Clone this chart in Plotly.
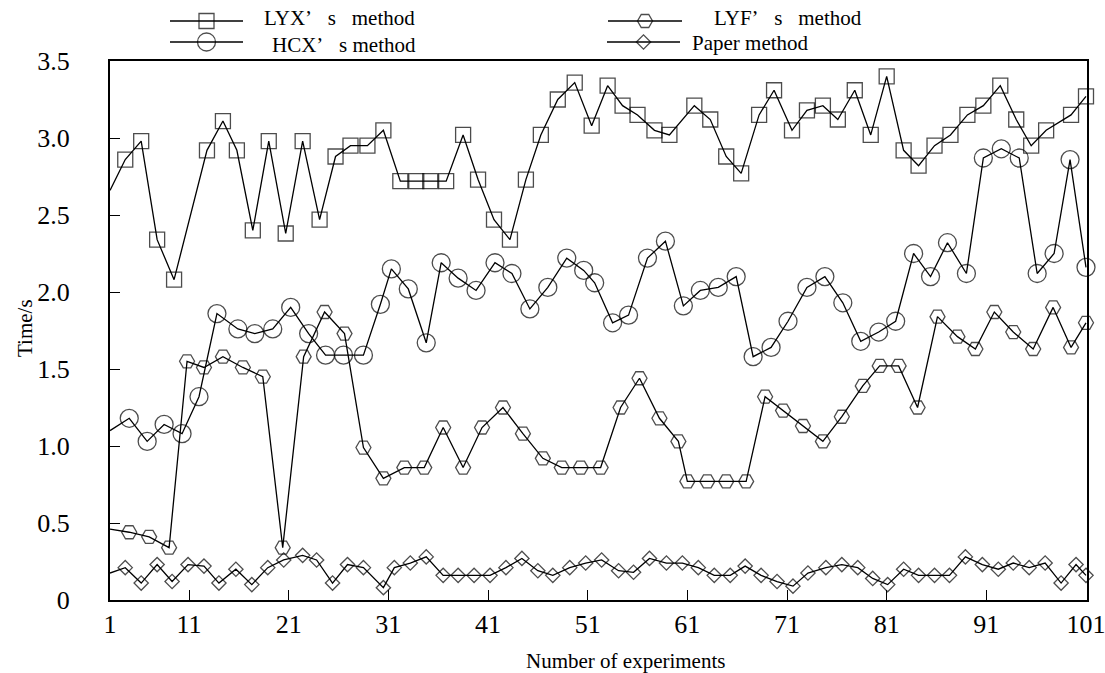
import plotly.graph_objects as go

# ---------------- data ----------------
lyx_x = [3.07, 4.6, 6.2, 7.8, 9.5, 12.8, 14.4, 15.8, 17.4, 19.0, 20.7, 22.4, 24.1, 25.7, 27.2,
         28.9, 30.5, 32.2, 33.8, 35.2, 36.8, 38.5, 40.0, 41.6, 43.2, 44.8, 46.3, 48.0, 49.7,
         51.4, 53.0, 54.5, 56.0, 57.7, 59.2, 61.7, 63.3, 64.9, 66.4, 68.2, 69.7, 71.5, 73.0,
         74.6, 76.1, 77.8, 79.4, 81.0, 82.7, 84.2, 85.8, 87.4, 89.1, 90.7, 92.4, 94.0, 95.5,
         97.0, 99.5, 101]
lyx_y = [2.66, 2.86, 2.98, 2.34, 2.08, 2.92, 3.11, 2.92, 2.40, 2.98, 2.38, 2.98, 2.47, 2.88, 2.95,
         2.95, 3.05, 2.72, 2.72, 2.72, 2.72, 3.02, 2.73, 2.47, 2.34, 2.73, 3.02, 3.25, 3.36,
         3.08, 3.34, 3.21, 3.15, 3.05, 3.02, 3.21, 3.12, 2.88, 2.77, 3.15, 3.31, 3.05, 3.18,
         3.21, 3.12, 3.31, 3.02, 3.40, 2.92, 2.82, 2.95, 3.02, 3.15, 3.21, 3.34, 3.12, 2.95,
         3.05, 3.15, 3.27]

hcx_x = [3.07, 5.0, 6.8, 8.5, 10.3, 12.0, 13.8, 15.9, 17.6, 19.4, 21.2, 23.0, 24.7, 26.5, 28.5,
         30.2, 31.3, 33.0, 34.8, 36.3, 38.0, 39.8, 41.7, 43.4, 45.2, 47.0, 48.9, 50.6, 51.7,
         53.5, 55.1, 57.0, 58.8, 60.6, 62.3, 64.1, 65.9, 67.6, 69.4, 71.1, 73.0, 74.8, 76.6,
         78.4, 80.2, 81.9, 83.7, 85.4, 87.1, 89.0, 90.7, 92.5, 94.3, 96.1, 97.8, 99.4, 101]
hcx_y = [1.10, 1.18, 1.03, 1.14, 1.08, 1.32, 1.86, 1.76, 1.73, 1.76, 1.90, 1.73, 1.59, 1.59, 1.59,
         1.92, 2.15, 2.02, 1.67, 2.19, 2.09, 2.01, 2.19, 2.12, 1.89, 2.03, 2.22, 2.14, 2.06,
         1.80, 1.85, 2.22, 2.33, 1.91, 2.01, 2.03, 2.10, 1.58, 1.64, 1.81, 2.03, 2.10, 1.93,
         1.68, 1.74, 1.81, 2.25, 2.10, 2.32, 2.12, 2.87, 2.93, 2.87, 2.12, 2.25, 2.86, 2.16]

lyf_x = [3.07, 5.0, 7.0, 9.0, 10.8, 12.5, 14.4, 16.4, 18.4, 20.4, 22.5, 24.6, 26.6, 28.5, 30.5,
         32.6, 34.6, 36.5, 38.5, 40.4, 42.5, 44.5, 46.5, 48.4, 50.3, 52.3, 54.3, 56.2, 58.2,
         60.1, 61.0, 63.0, 64.9, 66.9, 68.8, 70.6, 72.6, 74.6, 76.5, 78.6, 80.3, 82.2, 84.1,
         86.1, 88.1, 89.9, 91.8, 93.7, 95.7, 97.7, 99.5, 101]
lyf_y = [0.46, 0.44, 0.41, 0.34, 1.55, 1.51, 1.58, 1.51, 1.45, 0.34, 1.58, 1.87, 1.73, 0.99, 0.79,
         0.86, 0.86, 1.12, 0.86, 1.12, 1.25, 1.08, 0.92, 0.86, 0.86, 0.86, 1.25, 1.44, 1.18,
         1.03, 0.77, 0.77, 0.77, 0.77, 1.32, 1.23, 1.13, 1.03, 1.19, 1.39, 1.52, 1.52, 1.25,
         1.84, 1.71, 1.63, 1.87, 1.74, 1.63, 1.90, 1.64, 1.80]

paper_x = [3.07, 4.6, 6.2, 7.8, 9.3, 10.9, 12.5, 14.0, 15.7, 17.3, 18.9, 20.5, 22.4, 23.8, 25.4,
           26.9, 28.5, 30.5, 31.6, 33.2, 34.8, 36.5, 38.0, 39.6, 41.2, 42.8, 44.4, 46.0, 47.5,
           49.2, 50.8, 52.4, 54.1, 55.6, 57.2, 58.9, 60.5, 62.1, 63.7, 65.3, 66.8, 68.4, 70.0,
           71.6, 73.1, 74.9, 76.5, 78.1, 79.6, 81.1, 82.7, 84.2, 85.8, 87.3, 88.9, 90.6, 92.2,
           93.7, 95.3, 96.9, 98.5, 100.0, 101]
paper_y = [0.175, 0.21, 0.11, 0.23, 0.12, 0.23, 0.22, 0.11, 0.20, 0.10, 0.21, 0.26, 0.29, 0.26, 0.11,
           0.23, 0.21, 0.08, 0.21, 0.24, 0.28, 0.16, 0.16, 0.16, 0.16, 0.21, 0.27, 0.19, 0.16,
           0.21, 0.24, 0.26, 0.19, 0.18, 0.27, 0.24, 0.24, 0.21, 0.16, 0.16, 0.22, 0.16, 0.12,
           0.09, 0.175, 0.21, 0.23, 0.21, 0.14, 0.10, 0.20, 0.16, 0.16, 0.16, 0.28, 0.23, 0.20,
           0.24, 0.21, 0.24, 0.11, 0.23, 0.16]

series_names = ["LYX\u2019\u00a0\u00a0 s\u00a0\u00a0 method", "LYF\u2019\u00a0\u00a0 s\u00a0\u00a0 method",
                "HCX\u2019\u00a0\u00a0 s method", "Paper method"]

x_tick_vals = [3.07, 11, 21, 31, 41, 51, 61, 71, 81, 91, 101]
x_tick_text = ["1", "11", "21", "31", "41", "51", "61", "71", "81", "91", "101"]
y_tick_vals = [0, 0.5, 1.0, 1.5, 2.0, 2.5, 3.0, 3.5]
y_tick_text = ["0", "0.5", "1.0", "1.5", "2.0", "2.5", "3.0", "3.5"]

# ---------------- styling ----------------
FONT = "Liberation Serif, Times New Roman, serif"
W, H = 1105, 673
LW = 1.3

styles = [
    (lyx_x, lyx_y, "square-open", 15),
    (lyf_x, lyf_y, "hexagon2-open", 15),
    (hcx_x, hcx_y, "circle-open", 18),
    (paper_x, paper_y, "diamond-open", 11),
]

fig = go.Figure()
for (xs, ys, sym, sz), name in zip(styles, series_names):
    sizes = [0] + [sz] * (len(xs) - 1)   # the first point sits on the axis without a marker
    fig.add_trace(go.Scatter(
        x=xs, y=ys, mode="lines+markers", name=name, showlegend=False,
        line=dict(color="black", width=LW),
        marker=dict(symbol=sym, size=sizes, color="black", line=dict(color="black", width=LW)),
        cliponaxis=False, xaxis="x", yaxis="y"))

# ---------------- hand-made legend in a pixel-space helper axis ----------------
# (line start, line end, symbol row, text x, text row)
leg_rows = [(170, 243, 21, 262, 18), (608, 682, 21, 712, 18),
            (170, 243, 42, 270, 45), (607, 680, 42, 690, 43)]
for (xs, ys, sym, sz), name, (x0, x1, yy, tx, ty) in zip(styles, series_names, leg_rows):
    fig.add_trace(go.Scatter(
        x=[x0, (x0 + x1) / 2, x1], y=[yy, yy, yy], mode="lines+markers", showlegend=False,
        hoverinfo="skip",
        line=dict(color="black", width=LW),
        marker=dict(symbol=sym, size=[0, sz, 0], color="black", line=dict(color="black", width=LW)),
        cliponaxis=False, xaxis="x2", yaxis="y2"))
    fig.add_annotation(x=tx, y=ty, xref="x2", yref="y2", text=name, showarrow=False,
                       xanchor="left", yanchor="middle",
                       font=dict(family=FONT, size=21, color="black"))

plot_l, plot_r, plot_t, plot_b = 110, 1087, 61, 600

fig.update_layout(
    width=W, height=H, template="none",
    paper_bgcolor="white", plot_bgcolor="white",
    margin=dict(l=0, r=0, t=0, b=0),
    font=dict(family=FONT, color="black"),
    showlegend=False,
    xaxis=dict(
        domain=[plot_l / W, plot_r / W], range=[3.07, 101.1],
        tickmode="array", tickvals=x_tick_vals, ticktext=x_tick_text,
        ticks="inside", ticklen=10, tickwidth=LW, tickcolor="black",
        showline=True, linewidth=2, linecolor="black", mirror=True,
        showgrid=False, zeroline=False, ticklabeloverflow="allow",
        tickfont=dict(family=FONT, size=26, color="black"),
        ticklabelstandoff=0, anchor="y"),
    yaxis=dict(
        domain=[(H - plot_b) / H, (H - plot_t) / H], range=[0, 3.5],
        tickmode="array", tickvals=y_tick_vals, ticktext=y_tick_text,
        ticks="inside", ticklen=10, tickwidth=LW, tickcolor="black",
        showline=True, linewidth=2, linecolor="black", mirror=True,
        showgrid=False, zeroline=False, ticklabeloverflow="allow",
        tickfont=dict(family=FONT, size=26, color="black"),
        ticklabelstandoff=33, anchor="x"),
    xaxis2=dict(domain=[0, 1], range=[0, W], visible=False, anchor="y2", fixedrange=True),
    yaxis2=dict(domain=[(H - 58) / H, 1], range=[58, 0], visible=False, anchor="x2", fixedrange=True),
)

fig.add_annotation(x=625 / W, y=(H - 661) / H, xref="paper", yref="paper",
                   text="Number of experiments", showarrow=False, xanchor="center", yanchor="middle",
                   font=dict(family=FONT, size=21, color="black"))
fig.add_annotation(x=25 / W, y=(H - 328) / H, xref="paper", yref="paper",
                   text="Time/s", showarrow=False, textangle=-90, xanchor="center", yanchor="middle",
                   font=dict(family=FONT, size=21, color="black"))

fig.write_html("out.html", config={"displayModeBar": False},
               post_script="document.body.style.margin='0';")
